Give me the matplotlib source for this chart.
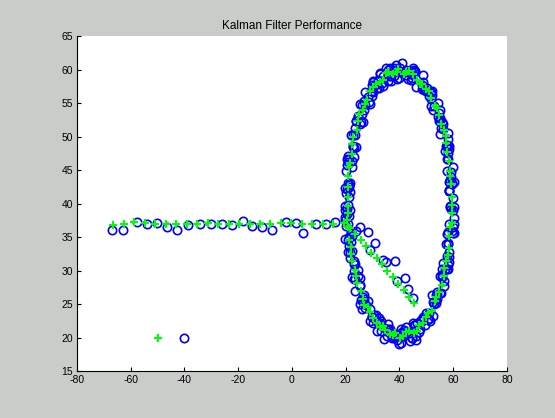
import matplotlib
matplotlib.use("Agg")
import matplotlib.pyplot as plt
import numpy as np

# ---- measured positions (blue circles) ----
start_meas_x = [-40.0]
start_meas_y = [20.0]

track_meas_x = [-67.1, -63.0, -57.8, -54.1, -50.1, -46.4, -42.7, -38.6, -34.3, -30.3, -26.2, -22.5,
                -18.2, -14.7, -11.0, -7.3, -2.4, 1.4, 4.1, 9.1, 12.8, 15.9, 19.6]
track_meas_y = [36.0, 36.1, 37.3, 37.0, 37.1, 36.5, 36.1, 36.8, 36.9, 36.9, 36.9, 36.8,
                37.4, 36.6, 36.5, 36.1, 37.3, 37.1, 35.6, 36.9, 36.9, 37.3, 37.6]

turn_meas_x = [21.0, 23.9, 25.3, 28.4, 29.2, 30.9, 33.8, 35.0, 38.2, 39.0, 41.9, 43.0, 45.2]
turn_meas_y = [37.0, 35.9, 36.5, 35.7, 33.0, 34.1, 31.6, 31.3, 31.4, 28.5, 28.9, 27.2, 25.9]

loop_meas_x = [
    60.3, 58.7, 59.1, 57.0, 58.1, 55.3, 54.3, 50.8, 49.9, 48.4, 44.4, 42.9, 38.8, 38.1, 34.9, 33.6,
    29.8, 27.2, 26.9, 24.7, 21.8, 22.9, 20.9, 21.2, 21.5, 19.9, 21.4, 21.5, 24.4, 23.5, 26.6, 28.2,
    29.6, 33.3, 33.8, 37.8, 40.6, 42.3, 46.1, 46.6, 49.8, 52.6, 53.4, 56.7, 56.2, 58.3, 57.8, 59.8,
    59.0, 60.2, 57.7, 58.2, 57.5, 54.7, 54.8, 52.2, 49.4, 46.3, 45.8, 42.6, 40.9, 36.9, 36.1, 32.2,
    30.7, 27.1, 26.2, 25.3, 23.5, 21.3, 22.3, 20.5, 19.6, 21.3, 19.9, 22.3, 23.1, 25.4, 25.7, 29.2,
    30.4, 31.7, 35.6, 37.4, 39.0, 43.7, 44.5, 47.9, 50.7, 50.8, 54.1, 55.3, 57.9, 57.6, 59.4, 58.4,
    60.0, 58.4, 59.9, 57.8, 56.3, 56.3, 52.8, 51.6, 50.2, 48.7, 44.4, 42.4, 39.1, 38.1, 33.7, 32.8,
    29.7, 29.1, 26.2, 23.7, 22.7, 22.7, 20.1, 20.9, 21.4, 20.1, 22.5, 21.7, 23.1, 23.6, 26.7, 27.0,
    30.0, 33.3, 34.2, 37.6, 41.0, 41.3, 45.7, 47.1, 48.9, 53.0, 53.5, 55.7, 55.9, 58.4, 58.2, 60.2,
    58.5, 59.7, 58.0, 58.5, 56.0, 55.0, 51.8, 51.8, 49.1, 45.7, 45.0, 40.3, 38.7, 36.9, 32.9, 31.6,
    30.3, 26.7, 26.3, 23.8, 22.9, 20.3, 21.6, 19.7, 20.4, 22.1, 20.9, 23.0, 24.6, 25.4, 26.2, 29.7,
    31.1, 34.9, 35.6, 39.7, 41.4, 44.5, 45.1, 48.3, 51.2, 53.9, 53.9, 56.8, 57.7, 57.3, 60.0, 58.9,
    60.0, 58.3, 59.1, 57.3, 58.1, 55.1, 54.5, 51.9, 48.9, 48.5, 44.9, 43.1, 40.3, 36.4, 35.7, 31.9,
    30.3, 28.5, 25.2, 25.8, 22.6, 22.2, 20.4, 21.7, 21.0, 20.4, 22.1, 20.7, 23.3, 25.2, 25.3, 27.7,
    31.3, 32.5, 35.5, 36.3, 40.4, 41.8, 46.0, 47.6, 48.7, 52.4, 53.6, 56.7, 55.9, 58.3, 58.2, 60.1,
    58.6, 59.7, 58.1, 58.5, 55.0, 54.9, 52.4, 52.0, 48.6, 45.4, 44.5, 40.9, 40.0, 35.6, 33.7, 30.3,
    29.6, 28.1, 24.7, 23.6, 23.9, 20.7, 21.3, 20.1, 19.6, 21.8, 21.4, 23.1, 22.5, 26.4, 26.8, 29.1,
    32.0, 32.9, 37.3, 38.5, 40.7, 44.0, 45.3, 49.6, 50.9, 52.2, 55.1, 55.0, 58.2, 58.1, 60.1, 58.9,
]
loop_meas_y = [
    39.5, 43.5, 44.0, 47.8, 50.5, 51.3, 55.0, 56.0, 56.8, 57.1, 59.8, 59.7, 60.7, 59.0, 60.3, 58.0,
    57.7, 54.7, 54.0, 52.9, 50.3, 46.9, 46.2, 42.4, 39.1, 38.0, 33.6, 32.7, 30.1, 28.8, 25.5, 25.4,
    23.0, 20.9, 21.6, 20.3, 19.2, 21.6, 20.3, 22.1, 23.7, 23.2, 26.3, 27.7, 31.1, 32.0, 35.5, 36.5,
    39.2, 43.2, 44.8, 48.6, 48.7, 52.3, 53.5, 56.8, 57.1, 57.4, 59.8, 59.2, 61.0, 59.0, 59.1, 57.2,
    57.6, 56.6, 53.3, 51.9, 51.2, 46.7, 45.4, 42.1, 39.0, 38.2, 34.7, 32.9, 28.8, 28.9, 25.6, 24.2,
    23.4, 20.9, 22.0, 20.1, 19.6, 20.6, 19.9, 22.6, 22.8, 23.6, 26.4, 26.7, 30.8, 32.1, 35.9, 36.9,
    40.8, 42.0, 45.4, 46.6, 51.1, 51.9, 54.5, 54.6, 57.3, 59.2, 58.4, 60.0, 58.6, 60.2, 59.1, 59.4,
    56.8, 54.8, 54.7, 52.3, 48.6, 48.5, 44.8, 43.1, 41.0, 36.6, 35.1, 31.9, 31.4, 26.9, 26.4, 24.4,
    22.2, 22.5, 19.8, 20.7, 20.8, 20.2, 21.9, 20.8, 22.8, 25.0, 25.6, 29.1, 29.4, 32.7, 33.9, 37.9,
    41.8, 42.9, 46.7, 48.1, 52.2, 52.7, 55.6, 56.5, 56.9, 59.7, 59.2, 60.3, 60.0, 58.3, 59.5, 57.2,
    56.6, 55.3, 52.1, 52.3, 48.3, 46.6, 43.1, 42.3, 39.2, 35.9, 34.6, 30.0, 29.2, 27.7, 24.3, 23.2,
    23.4, 21.3, 21.3, 19.1, 20.7, 20.0, 22.2, 22.4, 22.5, 25.7, 26.8, 30.2, 30.3, 34.0, 35.6, 39.5,
    39.1, 43.2, 44.7, 48.6, 49.7, 52.4, 52.9, 56.6, 57.6, 57.7, 60.3, 58.6, 59.7, 60.3, 58.3, 58.5,
    58.3, 55.2, 54.9, 52.1, 50.2, 46.3, 45.7, 41.7, 39.8, 38.5, 34.2, 32.8, 30.9, 27.9, 25.0, 24.8,
    22.5, 22.9, 20.3, 21.3, 20.3, 21.1, 19.7, 21.3, 23.1, 25.3, 25.2, 28.5, 30.3, 31.3, 35.8, 36.9,
    41.8, 43.0, 47.5, 48.6, 50.4, 53.9, 53.9, 56.2, 58.2, 59.9, 58.7, 59.6, 58.8, 60.0, 57.5, 58.1,
    56.0, 55.9, 53.1, 50.2, 48.4, 47.1, 42.8, 41.5, 39.6, 35.6, 35.0, 31.0, 29.0, 26.1, 25.7, 22.5,
    22.1, 22.1, 20.0, 20.4, 21.3, 19.5, 21.9, 21.9, 22.7, 26.3, 26.7, 29.2, 30.3, 34.1, 35.6, 39.6,
]

# ---- filter estimates (green stars) ----
start_est_x = [-50.0]
start_est_y = [20.0]

track_est_x = [-66.5, -62.6, -58.7, -54.8, -50.9, -47.0, -43.1, -39.2, -35.3, -31.4, -27.5, -23.6,
               -19.7, -15.8, -11.9, -8.0, -4.1, -0.2, 3.7, 7.6, 11.5, 15.4, 19.3]
track_est_y = [36.8, 37.0, 37.2, 37.1, 37.0, 36.9, 36.9, 37.0, 37.0, 37.1, 37.0, 37.0,
               37.0, 36.9, 36.9, 36.9, 37.1, 37.1, 36.9, 37.0, 37.0, 37.0, 37.1]

turn_est_x = [21.5, 23.5, 25.5, 27.5, 29.5, 31.5, 33.5, 35.5, 37.5, 39.5, 41.5, 43.5, 45.5]
turn_est_y = [36.3, 35.4, 34.6, 33.6, 32.6, 31.8, 30.9, 29.9, 29.0, 28.0, 27.1, 26.1, 25.2]

loop_est_x = [
    59.7, 59.1, 58.9, 57.7, 57.3, 55.4, 54.0, 51.6, 49.8, 47.8, 44.9, 42.6, 39.6, 37.7, 34.9, 32.8,
    30.1, 27.8, 26.4, 24.6, 22.7, 22.3, 21.1, 20.9, 20.8, 20.5, 21.3, 21.9, 23.5, 24.2, 26.3, 28.1,
    30.0, 32.7, 34.6, 37.6, 40.2, 42.4, 45.4, 47.2, 49.8, 52.1, 53.7, 55.9, 56.7, 58.1, 58.5, 59.5,
    59.6, 58.8, 58.5, 57.3, 56.6, 54.6, 53.1, 50.9, 48.4, 46.6, 43.7, 41.5, 38.9, 35.9, 33.9, 31.2,
    29.2, 27.3, 25.1, 24.2, 22.5, 21.7, 20.8, 20.9, 20.8, 20.9, 21.9, 22.2, 23.9, 25.6, 26.9, 29.1,
    31.7, 33.7, 36.4, 38.4, 41.4, 43.6, 46.6, 48.7, 50.6, 53.1, 54.6, 56.6, 57.2, 58.5, 58.9, 59.6,
]
loop_est_y = [
    39.8, 42.9, 44.8, 47.7, 50.1, 51.9, 54.3, 55.8, 57.1, 57.9, 59.3, 59.6, 60.1, 59.4, 59.5, 58.2,
    57.4, 55.4, 54.0, 52.3, 50.0, 47.4, 45.4, 42.5, 39.7, 37.6, 34.5, 32.5, 30.1, 28.2, 25.8, 24.6,
    22.9, 21.5, 21.1, 20.4, 19.9, 20.8, 20.7, 21.8, 23.1, 24.0, 26.1, 27.8, 30.4, 32.3, 35.1, 37.1,
    41.0, 44.1, 46.3, 49.1, 50.9, 53.2, 54.6, 56.8, 57.9, 58.5, 59.8, 59.4, 59.7, 59.6, 58.5, 57.9,
    56.8, 54.8, 53.4, 51.0, 48.9, 46.0, 44.1, 41.0, 38.6, 36.5, 33.5, 31.4, 29.2, 27.0, 24.9, 23.8,
    22.2, 21.7, 20.5, 20.6, 20.3, 20.9, 20.9, 22.2, 23.7, 25.5, 26.8, 29.2, 31.4, 33.4, 36.5, 38.6,
]

x_ticks = [-80, -60, -40, -20, 0, 20, 40, 60, 80]
y_ticks = [15, 20, 25, 30, 35, 40, 45, 50, 55, 60, 65]

plt.rcParams["font.family"] = ["Liberation Sans", "DejaVu Sans"]
plt.rcParams["axes.unicode_minus"] = False

bg = "#c9ccc9"
fig = plt.figure(figsize=(5.55, 4.18), dpi=100, facecolor=bg)
ax = fig.add_axes([0.1387, 0.1124, 0.7748, 0.8014])

meas_x = start_meas_x + track_meas_x + turn_meas_x + loop_meas_x
meas_y = start_meas_y + track_meas_y + turn_meas_y + loop_meas_y
est_x = start_est_x + track_est_x + turn_est_x + loop_est_x
est_y = start_est_y + track_est_y + turn_est_y + loop_est_y

ax.plot(meas_x, meas_y, linestyle="none", marker="o", markersize=6,
        markerfacecolor="none", markeredgecolor="#0000ff", markeredgewidth=1.2)
ax.plot(est_x, est_y, linestyle="none", marker="+", markersize=6,
        markeredgecolor="#00ff00", markeredgewidth=1.5)

ax.set_xlim(-80, 80)
ax.set_ylim(15, 65)
ax.set_xticks(x_ticks)
ax.set_yticks(y_ticks)
ax.spines["top"].set_visible(False)
ax.spines["right"].set_visible(False)
ax.tick_params(direction="in", length=3, width=0.8, labelsize=7.5, pad=3)
ax.set_title("Kalman Filter Performance", fontsize=8.5, pad=5)

fig.savefig("out.png", dpi=100, facecolor=bg)
